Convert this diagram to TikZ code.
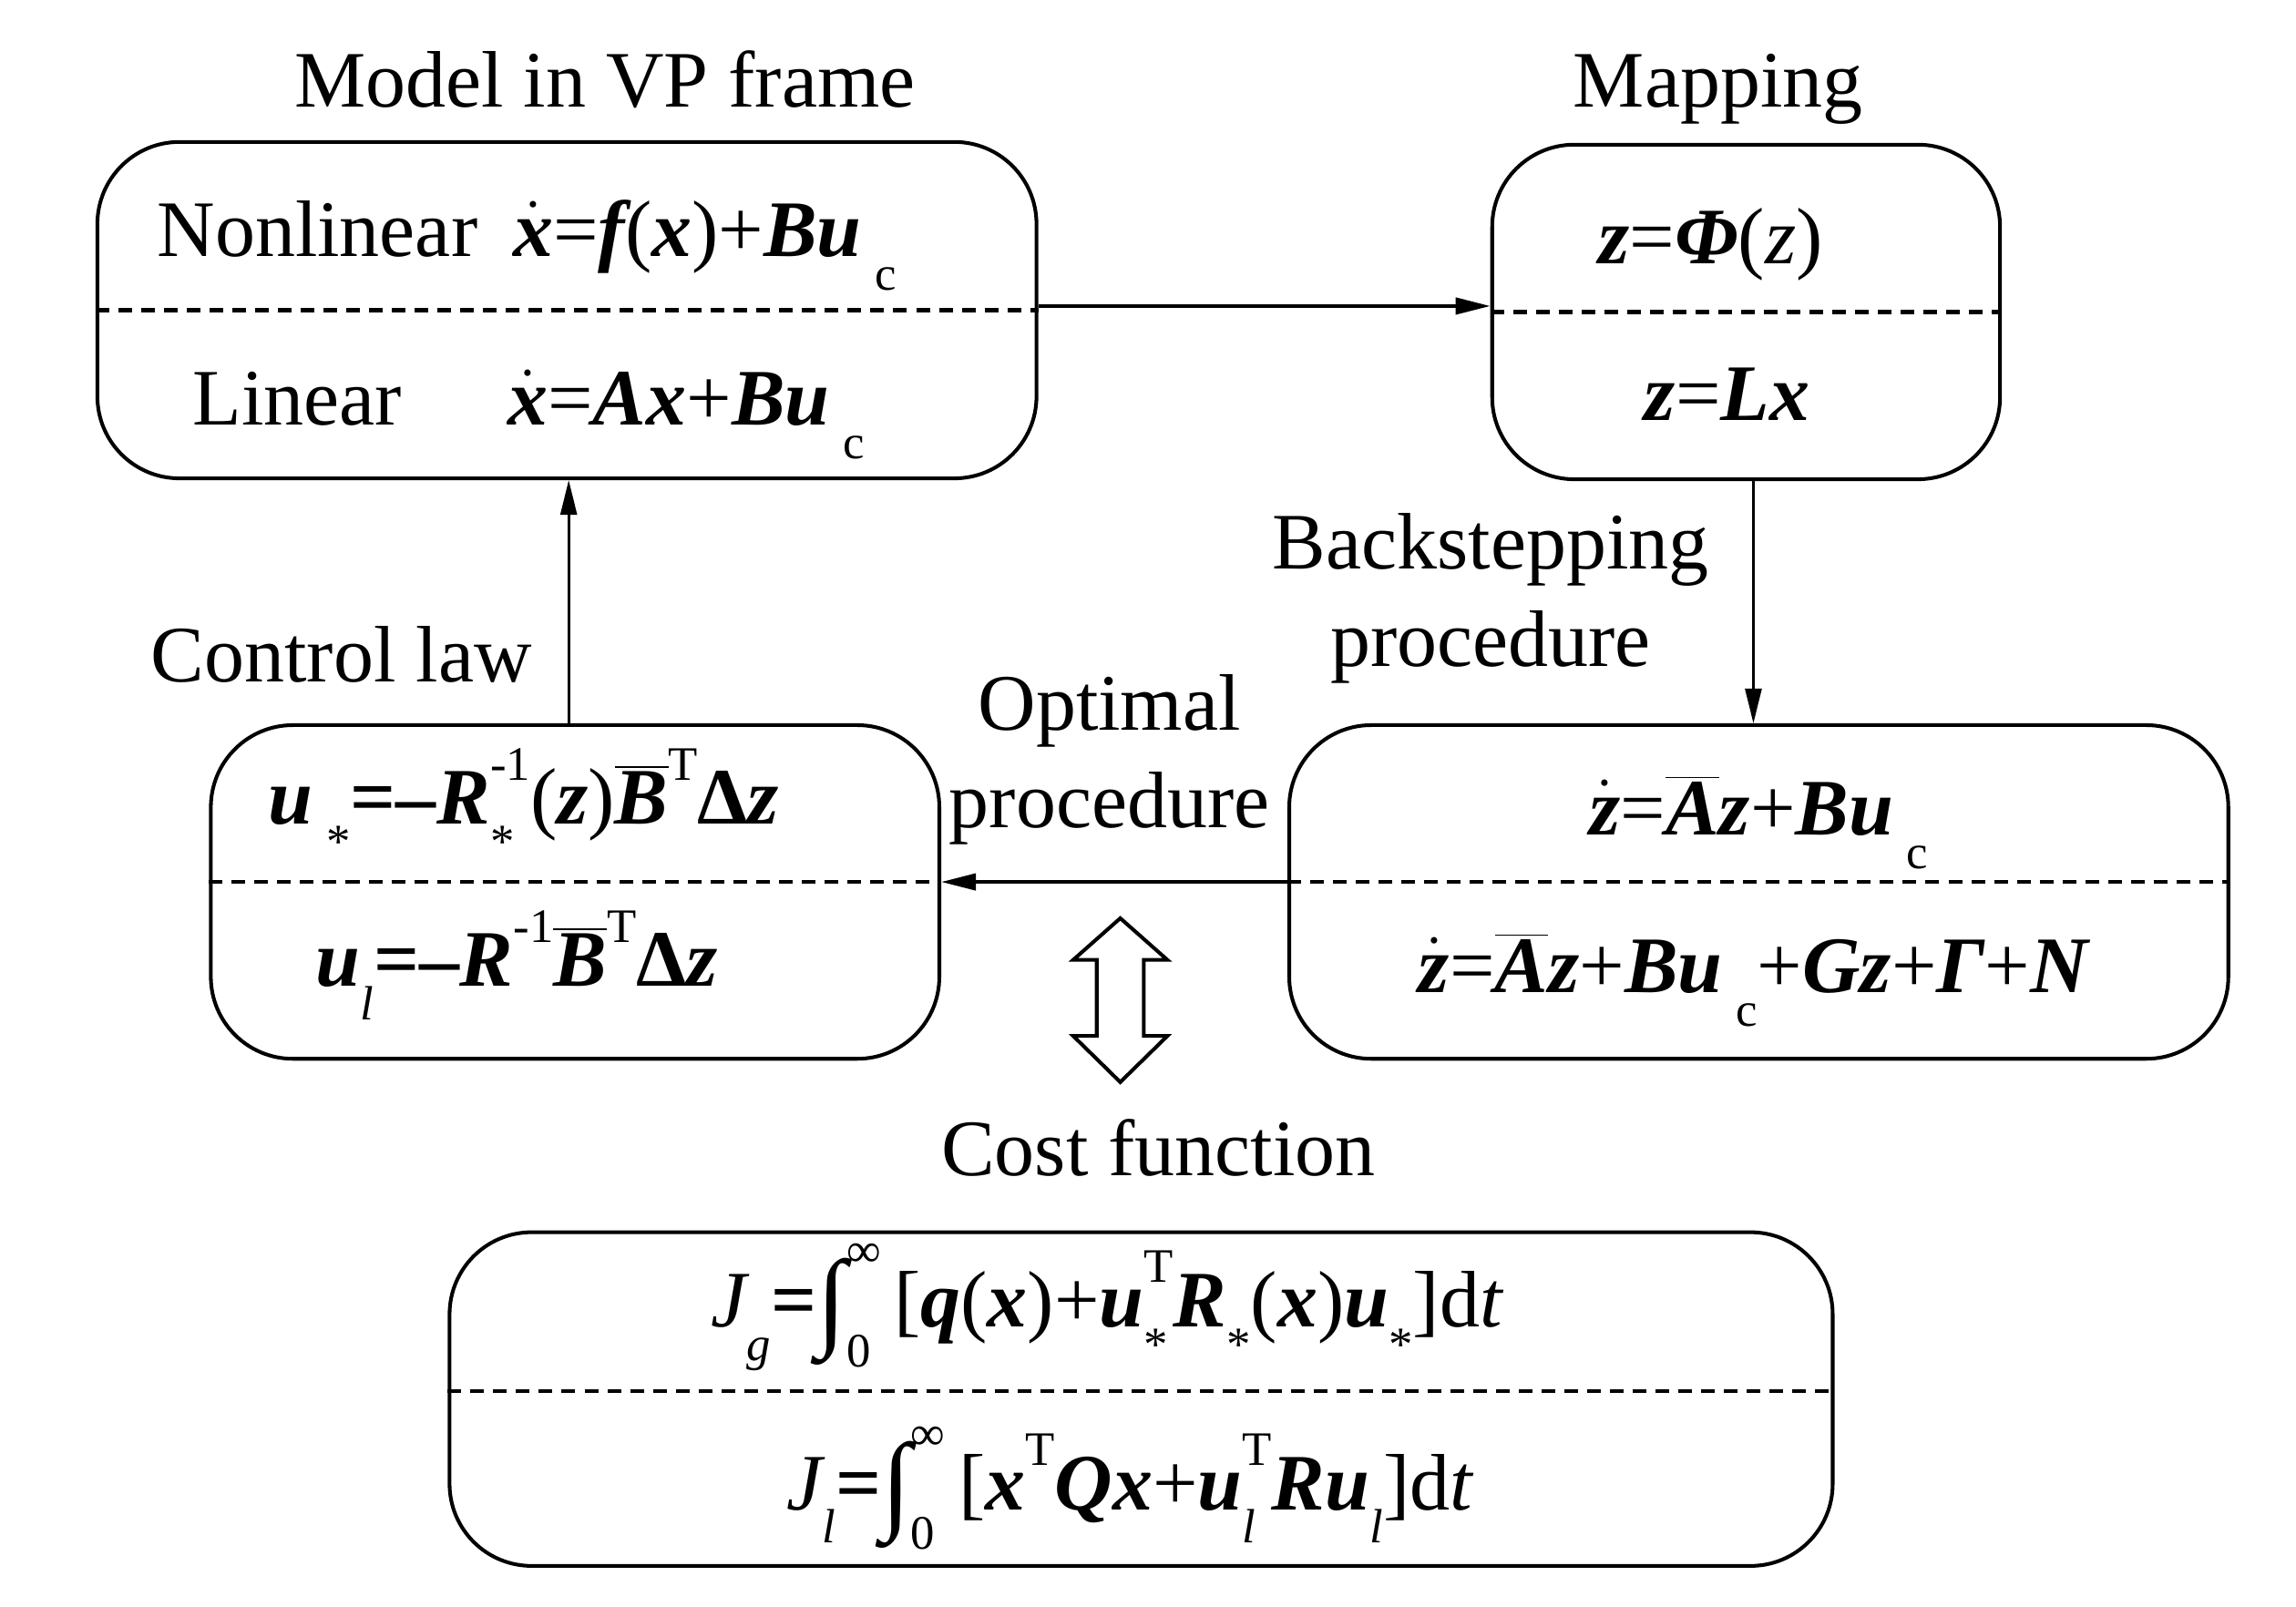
\documentclass[tikz,border=0pt]{standalone}
\usepackage{fontspec}
\setmainfont{Liberation Serif}
\usetikzlibrary{arrows.meta,calc}
\newcommand\bi[1]{{\bfseries\itshape #1}}
\newcommand\iv[1]{{\itshape #1}}
\newcommand\lo[1]{\raisebox{-0.42em}{\fontsize{15}{15}\selectfont #1}}
\newcommand\hi[1]{\raisebox{0.55em}{\fontsize{15}{15}\selectfont #1}}
\newcommand\hilo[2]{\rlap{\lo{#2}}\hi{#1}}
\newcommand\dotv[1]{$\dot{\hbox{#1}}$}
\newcommand\barv[1]{$\overline{\hbox{#1}}$}
\newcommand\intl{\raisebox{-0.12em}{\fontsize{34}{34}\selectfont ∫}\rlap{\raisebox{-0.5em}{\fontsize{15}{15}\selectfont 0}}\raisebox{0.75em}{\fontsize{15}{15}\selectfont ∞}}
\begin{document}
\begin{tikzpicture}[x=0.00994cm,y=-0.00994cm,
  every node/.style={font=\fontsize{25}{30}\selectfont, inner sep=0pt},
  box/.style={draw, line width=1.15pt, rounded corners=0.9cm},
  divline/.style={line width=1.2pt, dash pattern=on 0.15cm off 0.1cm},
  conn/.style={line width=1.1pt, -{Triangle[length=0.38cm,width=0.18cm]}},
  connthin/.style={line width=0.75pt, -{Triangle[length=0.38cm,width=0.18cm]}},
  lbl/.style={anchor=base}]
\useasboundingbox (0,0) rectangle (2535.2,1774.6);

% boxes
\node[box, minimum width=10.30cm, minimum height=3.69cm] (b1) at (626,342.5) {};
\node[box, minimum width=5.57cm, minimum height=3.67cm] (b2) at (1928,344.5) {};
\node[box, minimum width=7.99cm, minimum height=3.66cm] (b3) at (635,985) {};
\node[box, minimum width=10.30cm, minimum height=3.66cm] (b4) at (1942,985) {};
\node[box, minimum width=15.17cm, minimum height=3.66cm] (b5) at (1260,1545) {};

% dividers
\draw[divline] (b1.west) -- (b1.east);
\draw[divline] (b2.west) -- (b2.east);
\draw[divline] ([yshift=0.11cm]b3.west) -- ([yshift=0.11cm]b3.east);
\draw[divline] ([yshift=0.11cm]b4.west) -- ([yshift=0.11cm]b4.east);
\draw[divline] ([yshift=0.09cm]b5.west) -- ([yshift=0.09cm]b5.east);

% titles and labels
\node[lbl] (tmodel) at (668,118) {Model in VP frame};
\node[lbl] (tmap) at (1897,118) {Mapping};
\node[lbl] (tctrl) at (377,753) {Control law};
\node[lbl] (tback1) at (1646,628) {Backstepping};
\node[lbl] (tback2) at (1646,736) {procedure};
\node[lbl] (topt1) at (1225,806) {Optimal};
\node[lbl] (topt2) at (1225,914) {procedure};
\node[lbl] (tcost) at (1279,1298) {Cost function};

% box 1 contents
\node[anchor=base west] (e1a) at (173,283) {Nonlinear};
\node[anchor=base west] (e1b) at (566,283) {\dotv{\bi{x}}=\bi{f}(\bi{x})+\bi{Bu}\,\lo{c}};
\node[anchor=base west] (e1c) at (212,469) {Linear};
\node[anchor=base west] (e1d) at (560,469) {\dotv{\bi{x}}=\bi{Ax}+\bi{Bu}\,\lo{c}};

% box 2 contents
\node[lbl] (e2a) at (1889,291) {\bi{z}=\bi{Φ}(\iv{z})};
\node[lbl] (e2b) at (1907,464) {\bi{z}=\bi{Lx}};

% box 3 contents
\node[anchor=base west] (e3a) at (296,910) {\bi{u}\,\lo{*}\textbf{=–}\bi{R}\hilo{-1}{*}(\bi{z})\barv{\bi{B}}\hi{T}\textbf{Δ}\bi{z}};
\node[anchor=base west] (e3b) at (348,1089) {\bi{u}\lo{\iv{l}}\textbf{=–}\bi{R}\hi{-1}\barv{\bi{B}}\hi{T}\textbf{Δ}\bi{z}};

% box 4 contents
\node[lbl] (e4a) at (1942,922) {\dotv{\bi{z}}=\barv{\bi{A}}\bi{z}+\bi{Bu}\,\lo{c}};
\node[lbl] (e4b) at (1936,1096) {\dotv{\bi{z}}=\barv{\bi{A}}\bi{z}+\bi{Bu}\,\lo{c}+\bi{Gz}+\bi{Γ}+\bi{N}};

% box 5 contents
\node[lbl] (e5a) at (1222,1465) {\iv{J}\lo{\iv{g}}\textbf{=}\intl\,[\bi{q}(\bi{x})+\bi{u}\hilo{T}{*}\bi{R}\lo{*}(\bi{x})\bi{u}\lo{*}]d\iv{t}};
\node[lbl] (e5b) at (1247,1667) {\iv{J}\lo{\iv{l}}\textbf{=}\intl\,[\bi{x}\hi{T}\bi{Qx}+\bi{u}\hilo{T}{\iv{l}}\bi{Ru}\lo{\iv{l}}]d\iv{t}};

% connectors
\coordinate (c1) at ([yshift=0.045cm]b1.east);
\draw[conn] (c1) -- (c1 -| b2.west);
\coordinate (c2) at ([xshift=0.08cm]b2.south);
\draw[connthin] (c2) -- (c2 |- b4.north);
\coordinate (c4) at ([yshift=0.11cm]b4.west);
\draw[conn] (c4) -- (c4 -| b3.east);
\coordinate (c3) at ([xshift=-0.07cm]b3.north);
\draw[connthin] (c3) -- (c3 |- b1.south);

% hollow double arrow
\draw[line width=1.15pt, line join=miter]
  (1237,1014) -- (1289,1060) -- (1263,1060) -- (1263,1144) -- (1289,1144)
  -- (1237,1195) -- (1185,1144) -- (1211,1144) -- (1211,1060) -- (1185,1060) -- cycle;
\end{tikzpicture}
\end{document}
